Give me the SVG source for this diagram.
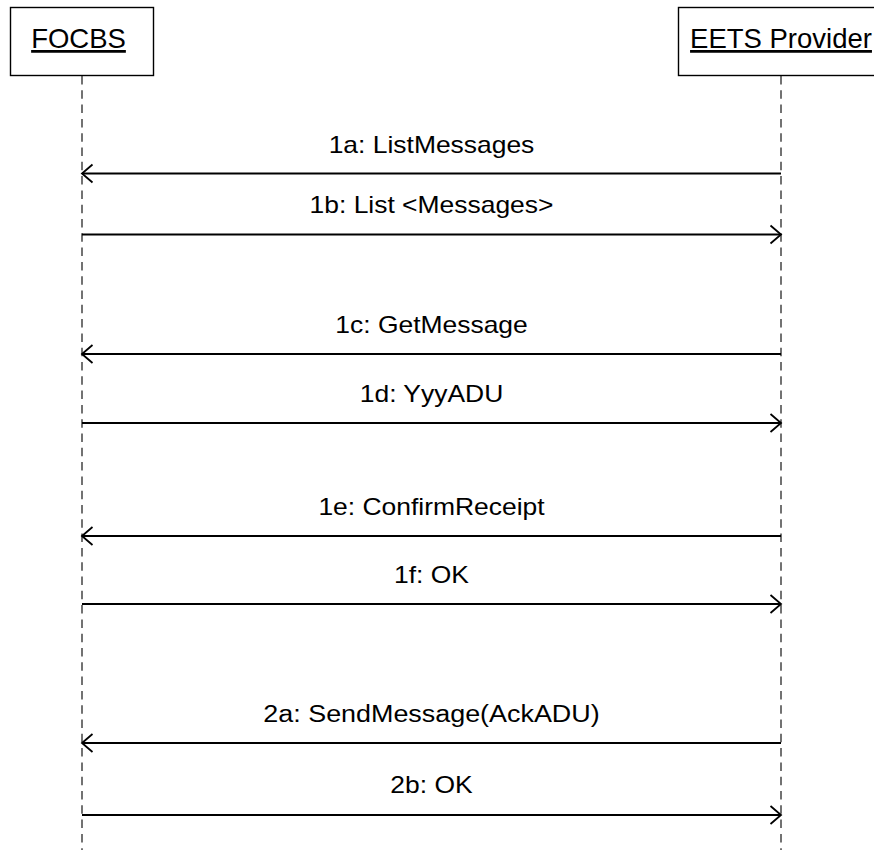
<svg xmlns="http://www.w3.org/2000/svg" width="874" height="850" viewBox="0 0 874 850">
<style>
.box{fill:#fff;stroke:#000;stroke-width:1.4}
.life{stroke:#444;stroke-width:1.5;stroke-dasharray:8.5,5.8;fill:none}
.name{font-family:"Liberation Sans",Arial,sans-serif;font-size:27.5px;text-anchor:middle;fill:#000;text-decoration:underline}
.msg{stroke:#000;stroke-width:1.8;fill:none}
.head{stroke:#000;stroke-width:1.8;fill:none}
.lbl{font-family:"Liberation Sans",Arial,sans-serif;font-size:23px;text-anchor:middle;fill:#000}
</style>
<rect width="874" height="850" fill="#fff"/>
<g id="lifelines">
<line class="life" x1="82" y1="76" x2="82" y2="850"/>
<line class="life" x1="781" y1="76" x2="781" y2="850"/>
</g>
<g id="FOCBS">
<rect class="box" x="10.5" y="7.5" width="143" height="68"/>
<text class="name" x="78.5" y="48">FOCBS</text>
</g>
<g id="EETSProvider">
<rect class="box" x="678.5" y="7.5" width="210" height="68"/>
<text class="name" x="781" y="48">EETS Provider</text>
</g>
<g id="connectors">
<line class="msg" x1="781" y1="173.5" x2="82" y2="173.5"/>
<polyline class="head" points="92.5,164.5 82,173.5 92.5,182.5"/>
<line class="msg" x1="82" y1="234.5" x2="781" y2="234.5"/>
<polyline class="head" points="770.5,225.5 781,234.5 770.5,243.5"/>
<line class="msg" x1="781" y1="354" x2="82" y2="354"/>
<polyline class="head" points="92.5,345 82,354 92.5,363"/>
<line class="msg" x1="82" y1="423" x2="781" y2="423"/>
<polyline class="head" points="770.5,414 781,423 770.5,432"/>
<line class="msg" x1="781" y1="536" x2="82" y2="536"/>
<polyline class="head" points="92.5,527 82,536 92.5,545"/>
<line class="msg" x1="82" y1="604" x2="781" y2="604"/>
<polyline class="head" points="770.5,595 781,604 770.5,613"/>
<line class="msg" x1="781" y1="743" x2="82" y2="743"/>
<polyline class="head" points="92.5,734 82,743 92.5,752"/>
<line class="msg" x1="82" y1="815" x2="781" y2="815"/>
<polyline class="head" points="770.5,806 781,815 770.5,824"/>
</g>
<g id="labels">
<text class="lbl" transform="matrix(1.15 0 0 1 431.5 152.5)">1a: ListMessages</text>
<text class="lbl" transform="matrix(1.15 0 0 1 431.5 213)">1b: List &lt;Messages&gt;</text>
<text class="lbl" transform="matrix(1.15 0 0 1 431.5 332.5)">1c: GetMessage</text>
<text class="lbl" transform="matrix(1.15 0 0 1 431.5 401.5)">1d: YyyADU</text>
<text class="lbl" transform="matrix(1.15 0 0 1 431.5 514.5)">1e: ConfirmReceipt</text>
<text class="lbl" transform="matrix(1.15 0 0 1 431.5 582.5)">1f: OK</text>
<text class="lbl" transform="matrix(1.17 0 0 1 431.5 721.5)">2a: SendMessage(AckADU)</text>
<text class="lbl" transform="matrix(1.15 0 0 1 431.5 793)">2b: OK</text>
</g>
</svg>
